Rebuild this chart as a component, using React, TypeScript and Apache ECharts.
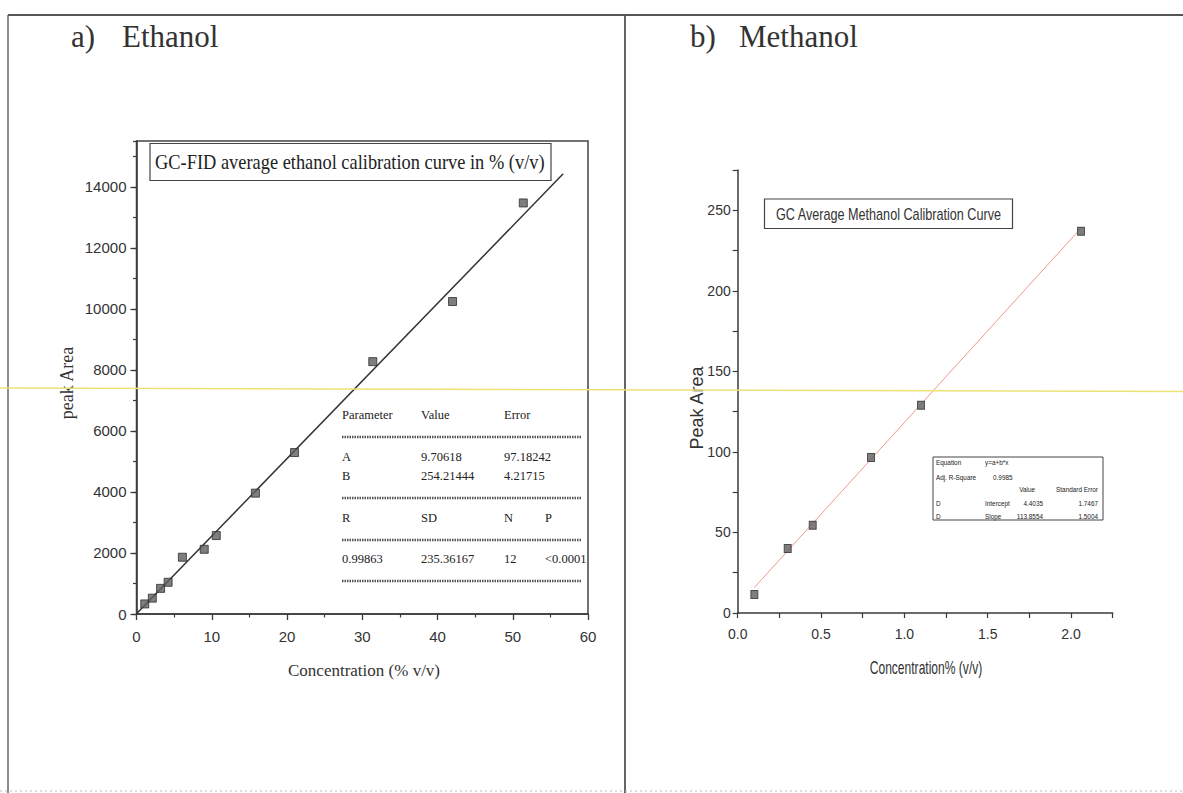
import React, { useEffect, useRef } from "react";
import * as echarts from "echarts";

// ---- a) Ethanol calibration (GC-FID) ----
const ethanolConc = [1.1, 2.1, 3.2, 4.2, 6.1, 9.0, 10.6, 15.8, 21.0, 31.4, 42.0, 51.4];
const ethanolArea = [330, 520, 840, 1040, 1860, 2120, 2570, 3960, 5290, 8270, 10240, 13470];
const ethanolFitA = 9.70618;
const ethanolFitB = 254.21444;
const ethanolFitRange = [0, 56.7];
const ethanolXAxis = { min: 0, max: 60, interval: 10 };
const ethanolYAxis = { min: 0, max: 15500, interval: 2000, minorInterval: 1000 };

const ethanolParamHead = ["Parameter", "Value", "Error"];
const ethanolParamRowA = ["A", "9.70618", "97.18242"];
const ethanolParamRowB = ["B", "254.21444", "4.21715"];
const ethanolStatsHead = ["R", "SD", "N", "P"];
const ethanolStatsRow = ["0.99863", "235.36167", "12", "<0.0001"];

// ---- b) Methanol calibration (GC) ----
const methanolConc = [0.1, 0.3, 0.45, 0.8, 1.1, 2.06];
const methanolArea = [11.5, 40, 54.5, 96.5, 129, 237];
const methanolIntercept = 4.4035;
const methanolSlope = 113.8554;
const methanolXAxis = { min: 0, max: 2.25, interval: 0.25 };
const methanolYAxis = { min: 0, max: 275, interval: 25 };

const methanolEquation = ["Equation", "y=a+b*x"];
const methanolAdjR2 = ["Adj. R-Square", "0.9985"];
const methanolFitHead = ["Value", "Standard Error"];
const methanolInterceptRow = ["D", "Intercept", "4.4035", "1.7467"];
const methanolSlopeRow = ["D", "Slope", "113.8554", "1.5004"];

const SERIF = '"Liberation Serif", "Times New Roman", serif';
const SANS = '"Liberation Sans", Arial, sans-serif';

function txt(
  text: string,
  x: number,
  y: number,
  size: number,
  family: string,
  opts: { align?: string; rotation?: number; scaleX?: number; fill?: string } = {}
) {
  const align = opts.align || "left";
  return {
    type: "text",
    x,
    y,
    rotation: opts.rotation || 0,
    scaleX: opts.scaleX || 1,
    silent: true,
    z: 20,
    style: {
      text,
      fontSize: size,
      fontFamily: family,
      fill: opts.fill || "#222",
      textAlign: align,
      align,
      textVerticalAlign: "middle",
      verticalAlign: "middle",
    },
  };
}

function hline(x1: number, x2: number, y: number, stroke: string, lineWidth: number, lineDash?: number[]) {
  return {
    type: "line",
    silent: true,
    z: 20,
    shape: { x1, y1: y, x2, y2: y },
    style: { stroke, lineWidth, lineDash },
  };
}

function vline(x: number, y1: number, y2: number, stroke: string, lineWidth: number) {
  return {
    type: "line",
    silent: true,
    z: 20,
    shape: { x1: x, y1, x2: x, y2 },
    style: { stroke, lineWidth },
  };
}

function box(x: number, y: number, width: number, height: number, lineWidth: number) {
  return {
    type: "rect",
    silent: true,
    z: 15,
    shape: { x, y, width, height },
    style: { fill: "#fff", stroke: "#444", lineWidth },
  };
}

function buildOption() {
  const ethanolPoints = ethanolConc.map((c, i) => [c, ethanolArea[i]]);
  const ethanolFit = ethanolFitRange.map((c) => [c, ethanolFitA + ethanolFitB * c]);
  const methanolPoints = methanolConc.map((c, i) => [c, methanolArea[i]]);
  const mRange = [Math.min(...methanolConc), Math.max(...methanolConc)];
  const methanolFit = mRange.map((c) => [c, methanolIntercept + methanolSlope * c]);

  const axisColor = "#3a3a3a";
  const labelStyle = { color: "#333", fontFamily: SANS };

  // dotted rules of the ethanol parameter table
  const ruleDash = [1.5, 1];
  const tL = 342;
  const tR = 581;
  const c1 = 342;
  const c2 = 421;
  const c3 = 504;
  const c4 = 545;
  const tSize = 12.5;

  const graphic: any[] = [
    // page frame
    hline(8, 1183, 15, "#555", 2),
    vline(8, 15, 793, "#666", 1.5),
    vline(625, 15, 793, "#555", 1.8),
    hline(0, 1183, 791, "#bbb", 1, [2, 3]),

    // panel headings
    txt("a)", 71, 36, 31, SERIF, { fill: "#333" }),
    txt("Ethanol", 122, 36, 31, SERIF, { fill: "#333" }),
    txt("b)", 690, 36, 31, SERIF, { fill: "#333" }),
    txt("Methanol", 739, 36, 31, SERIF, { fill: "#333" }),

    // ethanol chart title box
    box(150, 143.5, 401, 37, 1.2),
    txt("GC-FID average ethanol calibration curve in % (v/v)", 155, 162, 20, SERIF, { scaleX: 0.92 }),

    // ethanol axis names
    txt("peak Area", 67, 383, 18, SERIF, { align: "center", rotation: Math.PI / 2, fill: "#333" }),
    txt("Concentration (% v/v)", 364, 670, 17, SERIF, { align: "center", fill: "#333" }),

    // ethanol fit table
    txt(ethanolParamHead[0], c1, 415, tSize, SERIF),
    txt(ethanolParamHead[1], c2, 415, tSize, SERIF),
    txt(ethanolParamHead[2], c3, 415, tSize, SERIF),
    hline(tL, tR, 437, "#555", 2.4, ruleDash),
    txt(ethanolParamRowA[0], c1, 457, tSize, SERIF),
    txt(ethanolParamRowA[1], c2, 457, tSize, SERIF),
    txt(ethanolParamRowA[2], c3, 457, tSize, SERIF),
    txt(ethanolParamRowB[0], c1, 476, tSize, SERIF),
    txt(ethanolParamRowB[1], c2, 476, tSize, SERIF),
    txt(ethanolParamRowB[2], c3, 476, tSize, SERIF),
    hline(tL, tR, 498, "#555", 2.4, ruleDash),
    txt(ethanolStatsHead[0], c1, 518, tSize, SERIF),
    txt(ethanolStatsHead[1], c2, 518, tSize, SERIF),
    txt(ethanolStatsHead[2], c3, 518, tSize, SERIF),
    txt(ethanolStatsHead[3], c4, 518, tSize, SERIF),
    hline(tL, tR, 540, "#555", 2.4, ruleDash),
    txt(ethanolStatsRow[0], c1, 559, tSize, SERIF),
    txt(ethanolStatsRow[1], c2, 559, tSize, SERIF),
    txt(ethanolStatsRow[2], c3, 559, tSize, SERIF),
    txt(ethanolStatsRow[3], c4, 559, tSize, SERIF),
    hline(tL, tR, 581, "#555", 2.4, ruleDash),

    // methanol chart title box
    box(764.5, 199, 248, 29.5, 1.2),
    txt("GC Average Methanol Calibration Curve", 888.5, 214, 16, SANS, { align: "center", scaleX: 0.79, fill: "#333" }),

    // methanol axis names
    txt("Peak Area", 697, 408, 18, SANS, { align: "center", rotation: Math.PI / 2, fill: "#333" }),
    txt("Concentration% (v/v)", 926, 668, 18, SANS, { align: "center", scaleX: 0.67, fill: "#333" }),

    // methanol fit summary box
    box(933, 457, 170, 63, 1),
    txt(methanolEquation[0], 936, 462.5, 8, SANS, { scaleX: 0.8 }),
    txt(methanolEquation[1], 985, 462.5, 8, SANS, { scaleX: 0.8 }),
    txt(methanolAdjR2[0], 936, 477, 8, SANS, { scaleX: 0.8 }),
    txt(methanolAdjR2[1], 993, 477, 8, SANS, { scaleX: 0.8 }),
    txt(methanolFitHead[0], 1035, 489.5, 8, SANS, { align: "right", scaleX: 0.8 }),
    txt(methanolFitHead[1], 1098, 489.5, 8, SANS, { align: "right", scaleX: 0.8 }),
    txt(methanolInterceptRow[0], 936, 503.5, 8, SANS, { scaleX: 0.8 }),
    txt(methanolInterceptRow[1], 985, 503.5, 8, SANS, { scaleX: 0.8 }),
    txt(methanolInterceptRow[2], 1043, 503.5, 8, SANS, { align: "right", scaleX: 0.8 }),
    txt(methanolInterceptRow[3], 1098, 503.5, 8, SANS, { align: "right", scaleX: 0.8 }),
    txt(methanolSlopeRow[0], 936, 516, 8, SANS, { scaleX: 0.8 }),
    txt(methanolSlopeRow[1], 985, 516, 8, SANS, { scaleX: 0.8 }),
    txt(methanolSlopeRow[2], 1043, 516, 8, SANS, { align: "right", scaleX: 0.8 }),
    txt(methanolSlopeRow[3], 1098, 516, 8, SANS, { align: "right", scaleX: 0.8 }),

    // pale yellow rule running across the page
    {
      type: "line",
      silent: true,
      z: 50,
      shape: { x1: 0, y1: 388, x2: 1183, y2: 391.5 },
      style: { stroke: "#ece276", lineWidth: 1.5 },
    },
  ];

  const isMultiple = (v: number, step: number) => Math.abs(v / step - Math.round(v / step)) < 1e-6;

  return {
    animation: false,
    backgroundColor: "#fff",
    grid: [
      {
        left: 136.5,
        top: 141,
        width: 451.5,
        height: 473,
        show: true,
        borderColor: "#444",
        borderWidth: 1.5,
        backgroundColor: "transparent",
      },
      { left: 737.7, top: 170, width: 375, height: 443 },
    ],
    xAxis: [
      {
        type: "value",
        gridIndex: 0,
        min: ethanolXAxis.min,
        max: ethanolXAxis.max,
        interval: ethanolXAxis.interval,
        axisLine: { show: true, lineStyle: { color: axisColor, width: 1.5 } },
        axisTick: { show: true, inside: false, length: 6, lineStyle: { color: axisColor, width: 1.3 } },
        minorTick: { show: true, splitNumber: 2, length: 3.5, lineStyle: { color: axisColor, width: 1.2 } },
        axisLabel: { ...labelStyle, fontSize: 15, margin: 15, formatter: (v: number) => String(v) },
        splitLine: { show: false },
      },
      {
        type: "value",
        gridIndex: 1,
        min: methanolXAxis.min,
        max: methanolXAxis.max,
        interval: methanolXAxis.interval,
        axisLine: { show: true, lineStyle: { color: axisColor, width: 1.5 } },
        axisTick: { show: true, inside: false, length: 5, lineStyle: { color: axisColor, width: 1.2 } },
        axisLabel: {
          ...labelStyle,
          fontSize: 14,
          margin: 14,
          formatter: (v: number) => (isMultiple(v, 0.5) ? v.toFixed(1) : ""),
        },
        splitLine: { show: false },
      },
    ],
    yAxis: [
      {
        type: "value",
        gridIndex: 0,
        position: "left",
        min: ethanolYAxis.min,
        max: ethanolYAxis.max,
        interval: ethanolYAxis.interval,
        axisLine: { show: true, lineStyle: { color: axisColor, width: 1.5 } },
        axisTick: { show: true, inside: false, length: 6, lineStyle: { color: axisColor, width: 1.3 } },
        axisLabel: {
          ...labelStyle,
          fontSize: 15,
          margin: 10,
          showMaxLabel: false,
          formatter: (v: number) => String(v),
        },
        splitLine: { show: false },
      },
      {
        // minor ticks of the ethanol peak-area axis
        type: "value",
        gridIndex: 0,
        position: "left",
        offset: 0,
        min: ethanolYAxis.min,
        max: ethanolYAxis.max,
        interval: ethanolYAxis.minorInterval,
        axisLine: { show: false },
        axisTick: { show: true, inside: false, length: 3.5, lineStyle: { color: axisColor, width: 1.2 } },
        axisLabel: { show: false },
        splitLine: { show: false },
      },
      {
        type: "value",
        gridIndex: 1,
        position: "left",
        min: methanolYAxis.min,
        max: methanolYAxis.max,
        interval: methanolYAxis.interval,
        axisLine: { show: true, lineStyle: { color: axisColor, width: 1.5 } },
        axisTick: { show: true, inside: false, length: 5, lineStyle: { color: axisColor, width: 1.2 } },
        axisLabel: {
          ...labelStyle,
          fontSize: 14,
          margin: 7,
          formatter: (v: number) => (isMultiple(v, 50) ? String(v) : ""),
        },
        splitLine: { show: false },
      },
    ],
    series: [
      {
        name: "Ethanol fit",
        type: "line",
        xAxisIndex: 0,
        yAxisIndex: 0,
        data: ethanolFit,
        symbol: "none",
        lineStyle: { color: "#333", width: 1.5 },
        z: 3,
      },
      {
        name: "Ethanol",
        type: "scatter",
        xAxisIndex: 0,
        yAxisIndex: 0,
        data: ethanolPoints,
        symbol: "rect",
        symbolSize: [8, 8],
        itemStyle: { color: "#5e5e5e", borderColor: "#2e2e2e", borderWidth: 1 },
        z: 4,
      },
      {
        name: "Methanol fit",
        type: "line",
        xAxisIndex: 1,
        yAxisIndex: 2,
        data: methanolFit,
        symbol: "none",
        lineStyle: { color: "#ec9a8c", width: 1 },
        z: 3,
      },
      {
        name: "Methanol",
        type: "scatter",
        xAxisIndex: 1,
        yAxisIndex: 2,
        data: methanolPoints,
        symbol: "rect",
        symbolSize: [7, 8],
        itemStyle: { color: "#5e5e5e", borderColor: "#2e2e2e", borderWidth: 1 },
        z: 4,
      },
    ],
    graphic: { elements: graphic },
  };
}

export default function App() {
  const ref = useRef<HTMLDivElement>(null);

  useEffect(() => {
    if (!ref.current) return;
    const chart = echarts.init(ref.current, undefined, { renderer: "svg" });
    chart.setOption(buildOption() as any);
    return () => chart.dispose();
  }, []);

  return (
    <div
      ref={ref}
      style={{ position: "absolute", left: 0, top: 0, width: 1183, height: 793, background: "#fff" }}
    />
  );
}
